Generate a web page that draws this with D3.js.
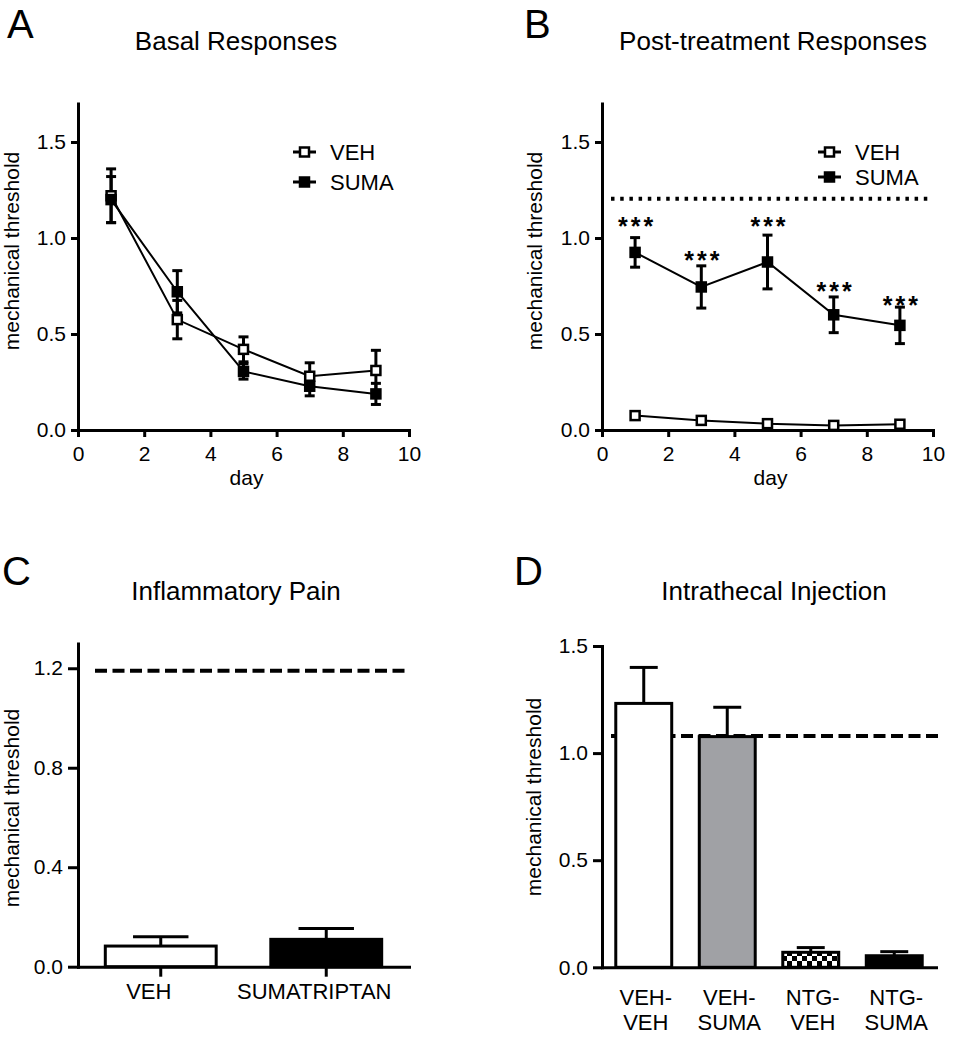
<!DOCTYPE html>
<html><head><meta charset="utf-8">
<script src="https://cdn.jsdelivr.net/npm/d3@7"></script>
<style>
body{margin:0;background:#fff;}
svg{display:block;font-family:"Liberation Sans",Arial,sans-serif;}
</style></head><body>
<svg id="chart" width="957" height="1050"></svg>
<script>
// ---------- data ----------
const days = [1, 3, 5, 7, 9];
const dayTicks = [0, 2, 4, 6, 8, 10];
const seriesNames = ["VEH", "SUMA"];

// A: basal responses
const basalVeh = [1.22, 0.575, 0.42, 0.28, 0.31];
const basalVehErr = [0.14, 0.10, 0.065, 0.07, 0.105];
const basalSuma = [1.20, 0.72, 0.305, 0.228, 0.188];
const basalSumaErr = [0.12, 0.11, 0.04, 0.05, 0.055];

// B: post-treatment responses
const postVeh = [0.075, 0.05, 0.033, 0.024, 0.03];
const postVehErr = [0.01, 0.008, 0.008, 0.006, 0.006];
const postSuma = [0.925, 0.745, 0.875, 0.60, 0.545];
const postSumaErr = [0.077, 0.11, 0.14, 0.093, 0.095];
const postBaseline = 1.205;
const starLevels = [1.087, 0.913, 1.087, 0.751, 0.678];
const starText = "***";

// C: inflammatory pain
const catsC = ["VEH", "SUMATRIPTAN"];
const valsC = [0.083, 0.11];
const errC = [0.037, 0.044];
const baselineC = 1.19;

// D: intrathecal injection
const catsD = ["VEH-VEH", "VEH-SUMA", "NTG-VEH", "NTG-SUMA"];
const labelsD = [["VEH-", "VEH"], ["VEH-", "SUMA"], ["NTG-", "VEH"], ["NTG-", "SUMA"]];
const valsD = [1.232, 1.077, 0.07, 0.054];
const errD = [0.168, 0.137, 0.022, 0.019];
const baselineD = 1.08;

const yTicksAB = [0, 0.5, 1.0, 1.5];
const yTicksC = [0, 0.4, 0.8, 1.2];
const yTicksD = [0, 0.5, 1.0, 1.5];

// ---------- drawing ----------
const svg = d3.select("#chart");
const defs = svg.append("defs");
const pat = defs.append("pattern").attr("id", "checker")
  .attr("patternUnits", "userSpaceOnUse").attr("width", 10).attr("height", 10)
  .attr("x", 2).attr("y", 1);
pat.append("rect").attr("width", 10).attr("height", 10).attr("fill", "#000");
pat.append("rect").attr("x", 0).attr("y", 0).attr("width", 5).attr("height", 5).attr("fill", "#fff");
pat.append("rect").attr("x", 5).attr("y", 5).attr("width", 5).attr("height", 5).attr("fill", "#fff");

const fillsD = ["#ffffff", "#a0a1a5", "url(#checker)", "#000000"];
const fillsC = ["#ffffff", "#000000"];

function styleAxis(sel, fontSize) {
  sel.select(".domain").attr("stroke-width", 3).attr("stroke-linecap", "square");
  sel.selectAll(".tick line").attr("stroke-width", 3);
  sel.selectAll(".tick text").attr("font-size", fontSize).attr("fill", "#000")
    .attr("font-family", '"Liberation Sans",Arial,sans-serif');
}

function panelText(letter, lx, ly, title, tx, ty, ylab, yx, yy) {
  svg.append("text").attr("x", lx).attr("y", ly).attr("font-size", 40).text(letter);
  svg.append("text").attr("x", tx).attr("y", ty).attr("font-size", 26)
    .attr("text-anchor", "middle").text(title);
  svg.append("text").attr("transform", `translate(${yx},${yy}) rotate(-90)`)
    .attr("font-size", 21).attr("text-anchor", "middle").text(ylab);
}

function linePanel(cfg) {
  const x = d3.scaleLinear().domain([0, 10]).range([cfg.x0, cfg.x1]);
  const y = d3.scaleLinear().domain([0, 1.7]).range([430, 430 - 1.7 * 192]);
  const g = svg.append("g");

  if (cfg.baseline != null) {
    g.append("line").attr("x1", cfg.x0 + 9).attr("x2", cfg.x1)
      .attr("y1", y(cfg.baseline)).attr("y2", y(cfg.baseline))
      .attr("stroke", "#000").attr("stroke-width", 4).attr("stroke-dasharray", "3.5,5.7");
  }

  const ax = g.append("g").attr("transform", `translate(0,${y(0)})`)
    .call(d3.axisBottom(x).tickValues(dayTicks).tickFormat(d3.format("d"))
      .tickSize(7).tickPadding(9).tickSizeOuter(0));
  styleAxis(ax, 21);
  const ay = g.append("g").attr("transform", `translate(${x(0)},0)`)
    .call(d3.axisLeft(y).tickValues(yTicksAB).tickFormat(d3.format(".1f"))
      .tickSize(7).tickPadding(5).tickSizeOuter(0));
  styleAxis(ay, 21);

  svg.append("text").attr("x", (cfg.x0 + cfg.x1) / 2 + 3).attr("y", 485)
    .attr("font-size", 21).attr("text-anchor", "middle").text("day");

  const series = [
    {name: seriesNames[0], vals: cfg.veh, err: cfg.vehErr, fill: "#fff"},
    {name: seriesNames[1], vals: cfg.suma, err: cfg.sumaErr, fill: "#000"}
  ];
  const line = d3.line().x((d, i) => x(days[i])).y(d => y(d));
  series.forEach(s => {
    g.append("path").attr("d", line(s.vals)).attr("fill", "none")
      .attr("stroke", "#000").attr("stroke-width", 2);
  });
  series.forEach(s => {
    s.vals.forEach((v, i) => {
      const cx = x(days[i]);
      const top = y(v + s.err[i]), bot = y(v - s.err[i]);
      g.append("line").attr("x1", cx).attr("x2", cx).attr("y1", top).attr("y2", bot)
        .attr("stroke", "#000").attr("stroke-width", 3);
      [top, bot].forEach(yy => g.append("line").attr("x1", cx - 5).attr("x2", cx + 5)
        .attr("y1", yy).attr("y2", yy).attr("stroke", "#000").attr("stroke-width", 3));
    });
  });
  series.forEach(s => {
    s.vals.forEach((v, i) => {
      g.append("rect").attr("x", x(days[i]) - 4.5).attr("y", y(v) - 4.5)
        .attr("width", 9).attr("height", 9).attr("fill", s.fill)
        .attr("stroke", "#000").attr("stroke-width", 2.5);
    });
  });

  if (cfg.stars) {
    cfg.stars.forEach((v, i) => {
      g.append("text").attr("x", x(days[i]) + 2).attr("y", y(v) + 14)
        .attr("text-anchor", "middle").attr("font-size", 25).attr("font-weight", "bold")
        .attr("letter-spacing", 3).text(starText);
    });
  }

  // legend
  series.forEach((s, i) => {
    const ly = cfg.legY[i];
    g.append("line").attr("x1", cfg.legX).attr("x2", cfg.legX + 23)
      .attr("y1", ly).attr("y2", ly).attr("stroke", "#000").attr("stroke-width", 3);
    g.append("rect").attr("x", cfg.legX + 7).attr("y", ly - 4.5).attr("width", 9).attr("height", 9)
      .attr("fill", s.fill).attr("stroke", "#000").attr("stroke-width", 2.5);
    g.append("text").attr("x", cfg.legX + 37).attr("y", ly + 8).attr("font-size", 22).text(s.name);
  });
}

function barPanel(cfg) {
  const x = d3.scaleBand().domain(cfg.cats).range([cfg.x0, cfg.x1])
    .paddingInner(0.33).paddingOuter(0.165);
  const y = d3.scaleLinear().domain([0, cfg.ymax]).range([cfg.y0, cfg.y0 - cfg.ymax * cfg.pxPerUnit]);
  const g = svg.append("g");

  g.append("line").attr("x1", cfg.dashX0).attr("x2", cfg.dashX1)
    .attr("y1", y(cfg.baseline)).attr("y2", y(cfg.baseline))
    .attr("stroke", "#000").attr("stroke-width", 4).attr("stroke-dasharray", "12,5.5");

  cfg.vals.forEach((v, i) => {
    const bx = x(cfg.cats[i]), bw = x.bandwidth(), cx = bx + bw / 2;
    g.append("line").attr("x1", cx).attr("x2", cx).attr("y1", y(v)).attr("y2", y(v + cfg.err[i]))
      .attr("stroke", "#000").attr("stroke-width", 3);
    g.append("line").attr("x1", cx - bw / 4).attr("x2", cx + bw / 4)
      .attr("y1", y(v + cfg.err[i])).attr("y2", y(v + cfg.err[i]))
      .attr("stroke", "#000").attr("stroke-width", 3);
    g.append("rect").attr("x", bx).attr("y", y(v)).attr("width", bw).attr("height", y(0) - y(v))
      .attr("fill", cfg.fills[i]).attr("stroke", "#000").attr("stroke-width", 3);
  });

  const ax = g.append("g").attr("transform", `translate(0,${y(0)})`)
    .call(d3.axisBottom(x).tickSize(cfg.xTick).tickPadding(7).tickSizeOuter(0)
      .tickFormat(cfg.twoLine ? () => "" : d => d));
  styleAxis(ax, 22);
  ax.selectAll(".tick text").attr("dx", cfg.labelDx || 0);
  if (cfg.twoLine) {
    ax.selectAll(".tick line").remove();
    cfg.cats.forEach((c, i) => {
      const t = g.append("text").attr("x", x(c) + x.bandwidth() / 2 + 2).attr("y", 1005)
        .attr("font-size", 22).attr("text-anchor", "middle");
      labelsD[i].forEach((s, k) => t.append("tspan").attr("x", x(c) + x.bandwidth() / 2 + 2)
        .attr("dy", k === 0 ? 0 : 25).text(s));
    });
  }
  const ay = g.append("g").attr("transform", `translate(${cfg.x0},0)`)
    .call(d3.axisLeft(y).tickValues(cfg.yTicks).tickFormat(d3.format(".1f"))
      .tickSize(cfg.yTick).tickPadding(5).tickSizeOuter(0));
  styleAxis(ay, 21);
}

// Panel A
panelText("A", 7, 38, "Basal Responses", 236, 50, "mechanical threshold", 19, 251);
linePanel({x0: 78, x1: 409, veh: basalVeh, vehErr: basalVehErr, suma: basalSuma, sumaErr: basalSumaErr,
  legX: 293, legY: [152, 182]});

// Panel B
panelText("B", 524, 38, "Post-treatment Responses", 773, 50, "mechanical threshold", 542, 251);
linePanel({x0: 602, x1: 933, veh: postVeh, vehErr: postVehErr, suma: postSuma, sumaErr: postSumaErr,
  baseline: postBaseline, stars: starLevels, legX: 818, legY: [152, 177]});

// Panel C
panelText("C", 2, 585, "Inflammatory Pain", 236, 600, "mechanical threshold", 19, 808);
barPanel({cats: catsC, vals: valsC, err: errC, fills: fillsC, x0: 78, x1: 409, y0: 966.7,
  ymax: 1.3, pxPerUnit: 248.7, baseline: baselineC, dashX0: 95, dashX1: 410,
  yTicks: yTicksC, yTick: 10, xTick: 10, labelDx: -12});

// Panel D
panelText("D", 514, 585, "Intrathecal Injection", 774, 600, "mechanical threshold", 541, 797);
barPanel({cats: catsD, vals: valsD, err: errD, fills: fillsD, x0: 602, x1: 936, y0: 967.3,
  ymax: 1.5, pxPerUnit: 214.2, baseline: baselineD, dashX0: 611, dashX1: 938,
  yTicks: yTicksD, yTick: 9, xTick: 0, twoLine: true});
</script>
</body></html>
